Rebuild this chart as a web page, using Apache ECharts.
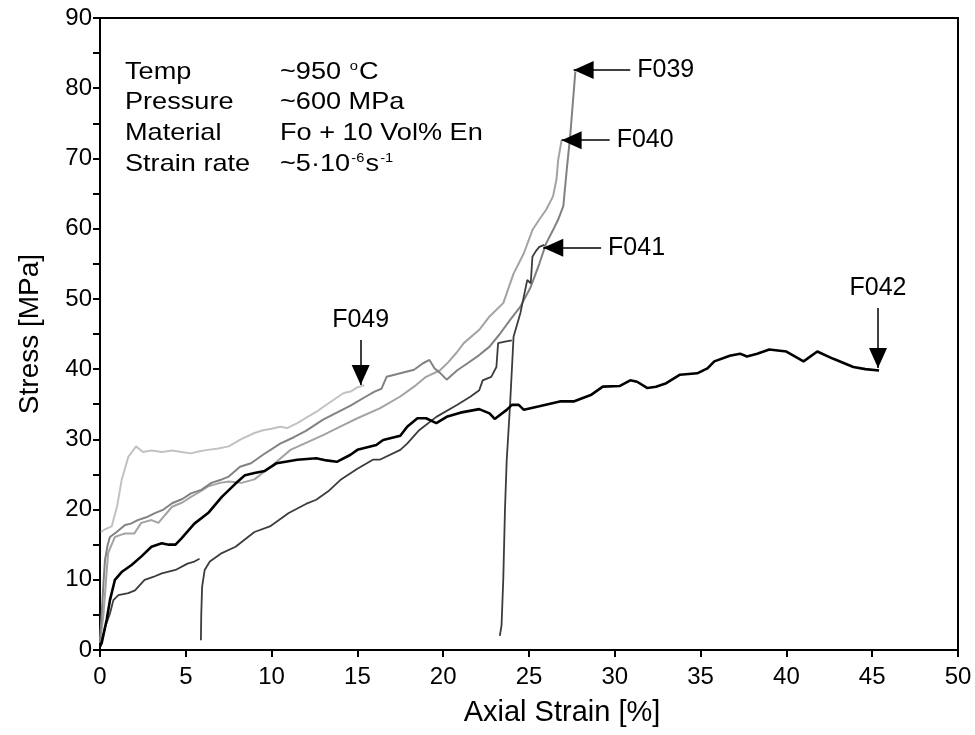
<!DOCTYPE html>
<html>
<head>
<meta charset="utf-8">
<script src="https://cdn.jsdelivr.net/npm/echarts@6/dist/echarts.min.js"></script>
<style>
html,body{margin:0;padding:0;background:#fff;}
#chart{width:975px;height:735px;}
</style>
</head>
<body>
<div id="chart"></div>
<script>
// ---- data (strain in %, stress in MPa) ----
const strainF049 = [0.05,0.3,0.68,1.0,1.26,1.65,2.1,2.5,3.0,3.6,4.2,4.75,5.3,5.8,6.3,6.9,7.5,8.2,9.0,9.5,10.0,10.5,10.9,11.5,12.1,12.6,13.0,13.6,14.2,14.6,15.0,15.4];
const stressF049 = [16.8,17.2,17.6,20.5,24.2,27.5,29.0,28.2,28.4,28.2,28.4,28.2,28.0,28.3,28.5,28.7,29.0,30.0,30.9,31.3,31.5,31.8,31.6,32.3,33.2,33.9,34.6,35.6,36.6,36.8,37.4,37.7];

const strainF039 = [0.0,0.1,0.2,0.29,0.45,0.58,0.97,1.46,1.8,2.2,2.7,3.2,3.7,4.2,4.8,5.3,5.9,6.5,7.0,7.5,8.16,8.8,9.5,10.5,11.3,12.0,13.0,13.8,14.6,15.5,16.0,16.4,16.7,17.5,18.3,18.8,19.2,19.5,19.8,20.2,20.8,21.4,22.1,22.7,23.3,23.9,24.5,25.1,25.6,26.0,26.4,26.7,27.0,27.2,27.4,27.6,27.7];
const stressF039 = [1.5,5.2,9.5,12.8,15.0,16.1,16.8,17.8,18.0,18.5,18.9,19.5,20.0,20.9,21.5,22.3,22.8,23.8,24.2,24.7,26.1,26.6,27.8,29.4,30.3,31.2,32.8,33.8,34.8,36.1,36.8,37.2,38.9,39.4,39.9,40.8,41.3,40.1,39.5,38.5,39.8,40.8,42.0,43.2,45.0,47.0,48.9,51.7,55.0,57.9,59.8,61.3,63.2,68.4,73.2,79.3,82.4];

const strainF040 = [0.0,0.2,0.47,0.87,1.2,1.46,2.0,2.4,3.0,3.4,4.2,4.8,5.3,5.8,6.3,7.0,7.5,8.25,9.0,10.0,11.1,12.0,13.0,14.0,15.0,16.3,17.5,18.3,19.0,19.8,20.3,20.8,21.2,22.1,22.7,23.5,24.1,24.7,25.2,25.6,26.0,26.4,26.6,26.7,26.9];
const stressF040 = [1.0,5.0,13.8,16.1,16.4,16.6,16.6,18.1,18.5,18.1,20.4,21.0,21.8,22.5,23.3,23.8,24.0,23.8,24.3,26.2,28.5,29.5,30.6,31.8,33.0,34.4,36.1,37.5,38.9,39.8,41.0,42.4,43.7,45.6,47.5,49.4,53.6,56.5,59.8,61.3,62.7,64.6,67.0,69.8,72.6];

// F041: three loading stages (initial, reload at ~5.9 %, reload at ~23.3 %)
const strainF041a = [0.0,0.1,0.3,0.58,0.78,1.07,1.65,2.04,2.6,3.1,3.6,4.4,5.1,5.5,5.8];
const stressF041a = [0.5,1.4,3.3,5.2,7.1,7.8,8.1,8.5,10.0,10.4,10.9,11.4,12.3,12.6,13.0];
const strainF041b = [5.88,5.9,5.95,6.1,6.4,7.1,7.9,9.0,9.9,11.0,12.0,12.6,13.3,14.0,15.0,15.9,16.3,17.5,17.9,18.6,19.6,20.8,21.6,22.1,22.3,22.8,23.1,23.2,23.6,24.0];
const stressF041b = [1.4,5.0,9.0,11.4,12.6,13.8,14.7,16.8,17.6,19.5,20.8,21.4,22.6,24.2,25.8,27.1,27.1,28.5,29.4,31.3,33.2,34.9,36.1,37.0,38.4,38.9,40.3,43.7,43.9,44.1];
const strainF041c = [23.3,23.4,23.5,23.6,23.7,23.8,23.9,24.1,24.5,24.9,25.1,25.2,25.4,25.6,25.9];
const stressF041c = [2.0,3.5,10.0,20.0,27.0,31.0,35.1,44.6,48.0,52.7,52.2,56.0,56.8,57.4,57.7];

const strainF042 = [0.0,0.1,0.39,0.58,0.87,1.26,1.84,2.4,3.0,3.6,4.0,4.4,4.75,5.5,6.3,7.1,7.9,8.45,9.0,9.6,10.3,11.5,12.6,13.2,13.8,14.6,15.0,16.1,16.5,17.5,17.9,18.5,19.0,19.6,20.2,21.0,22.1,22.7,23.0,23.7,24.0,24.4,24.7,25.6,26.8,27.6,28.6,29.3,30.3,30.9,31.3,31.9,32.4,33.0,33.8,34.8,35.4,35.8,36.7,37.3,37.7,38.3,39.0,40.0,41.0,41.8,42.7,43.9,44.6,45.4];
const stressF042 = [0.5,1.0,4.3,7.1,10.0,11.1,12.1,13.3,14.7,15.2,15.0,15.0,15.9,18.0,19.5,21.8,23.7,24.9,25.2,25.5,26.6,27.1,27.3,27.0,26.8,27.8,28.5,29.2,29.9,30.5,31.8,33.0,33.0,32.3,33.2,33.8,34.3,33.7,32.9,34.2,34.9,34.9,34.2,34.7,35.4,35.4,36.3,37.5,37.6,38.4,38.2,37.3,37.5,38.0,39.2,39.4,40.1,41.1,41.9,42.2,41.8,42.2,42.8,42.5,41.1,42.5,41.5,40.3,40.0,39.8];

// sample labels and arrow (tail, tip) in data units
const sampleNames = ['F039','F040','F041','F042','F049'];
const arrowTail = [[30.9,82.6],[29.7,72.6],[29.2,57.3],[45.34,48.7],[15.19,44.15]];
const arrowTip  = [[27.6,82.6],[26.9,72.6],[25.83,57.3],[45.34,40.16],[15.19,37.74]];

const xTicks = {min:0, max:50, step:5};
const yTicks = {min:0, max:90, step:5, labelStep:10};

const infoLabels = ['Temp','Pressure','Material','Strain rate'];
const infoValues = ['~950 {sup|o}C','~600 MPa','Fo + 10 Vol% En','~5\u00b710{sup|-6}s{sup|-1}'];

// ---- chart ----
const FONT = 'Liberation Sans, Arial, sans-serif';
function pairs(xs, ys){ return xs.map((x,i)=>[x, ys[i]]); }
function arrow(name){
  const i = sampleNames.indexOf(name);
  return {
    silent: true, animation: false,
    symbol: ['none','triangle'],
    symbolSize: [18, 20],
    symbolOffset: [[0,0],[0,10]],
    lineStyle: {color:'#000', width:1.5, type:'solid'},
    label: {show:true, position:'start', formatter:name, color:'#000', fontSize:25, fontFamily:FONT, distance:7},
    emphasis: {disabled:true},
    data: [[{coord: arrowTail[i]}, {coord: arrowTip[i]}]]
  };
}
function line(name, xs, ys, color, width, withArrow){
  const s = {
    name: name, type:'line', data: pairs(xs, ys), showSymbol:false, symbol:'none',
    lineStyle:{color:color, width:width}, itemStyle:{color:color},
    animation:false, silent:true, z:2
  };
  if (withArrow) s.markLine = arrow(name);
  return s;
}

const chart = echarts.init(document.getElementById('chart'), null, {renderer:'canvas'});
const infoGraphics = [];
const rowY = [72, 102, 133, 164];
infoLabels.forEach((t,i)=>{
  infoGraphics.push({type:'text', x:125, y:rowY[i], scaleX:1.13, silent:true,
    style:{text:t, fontSize:24, fontFamily:FONT, fill:'#000', textVerticalAlign:'middle', verticalAlign:'middle'}});
  infoGraphics.push({type:'text', x:280, y:rowY[i], scaleX:1.13, silent:true,
    style:{text:infoValues[i], fontSize:24, fontFamily:FONT, fill:'#000', textVerticalAlign:'middle', verticalAlign:'middle',
      rich:{sup:{fontSize:13, fontFamily:FONT, fill:'#000', verticalAlign:'top', padding:[0,1,0,1]}}}});
});

chart.setOption({
  animation:false,
  textStyle:{fontFamily:FONT, color:'#000'},
  grid:{left:100, right:17, top:18, bottom:85, show:true, borderColor:'#000', borderWidth:2, backgroundColor:'transparent'},
  xAxis:{type:'value', min:xTicks.min, max:xTicks.max, interval:xTicks.step,
    name:'Axial Strain [%]', nameLocation:'middle', nameGap:48,
    nameTextStyle:{fontSize:29, color:'#000', fontFamily:FONT, padding:[0,0,0,66]},
    axisLine:{show:true, onZero:false, lineStyle:{color:'#000', width:2}},
    axisTick:{show:true, inside:false, length:7, lineStyle:{color:'#000', width:2}},
    axisLabel:{color:'#000', fontSize:24, fontFamily:FONT, margin:15},
    splitLine:{show:false}},
  yAxis:{type:'value', min:yTicks.min, max:yTicks.max, interval:yTicks.step,
    name:'Stress [MPa]', nameLocation:'middle', nameGap:56,
    nameTextStyle:{fontSize:28, color:'#000', fontFamily:FONT},
    axisLine:{show:true, onZero:false, lineStyle:{color:'#000', width:2}},
    axisTick:{show:true, inside:false, length:7, lineStyle:{color:'#000', width:2}},
    axisLabel:{color:'#000', fontSize:24, fontFamily:FONT, margin:8,
      formatter:(v)=> (v % yTicks.labelStep === 0 ? String(v) : '')},
    splitLine:{show:false}},
  graphic: infoGraphics,
  series:[
    line('F049', strainF049, stressF049, '#c2c2c2', 2, true),
    line('F040', strainF040, stressF040, '#a3a3a3', 2, true),
    line('F039', strainF039, stressF039, '#828282', 2, true),
    line('F041', strainF041a, stressF041a, '#3c3c3c', 1.8, false),
    line('F041', strainF041b, stressF041b, '#3c3c3c', 1.8, false),
    line('F041', strainF041c, stressF041c, '#3c3c3c', 1.8, true),
    line('F042', strainF042, stressF042, '#000000', 2.6, true)
  ]
});
</script>
</body>
</html>
